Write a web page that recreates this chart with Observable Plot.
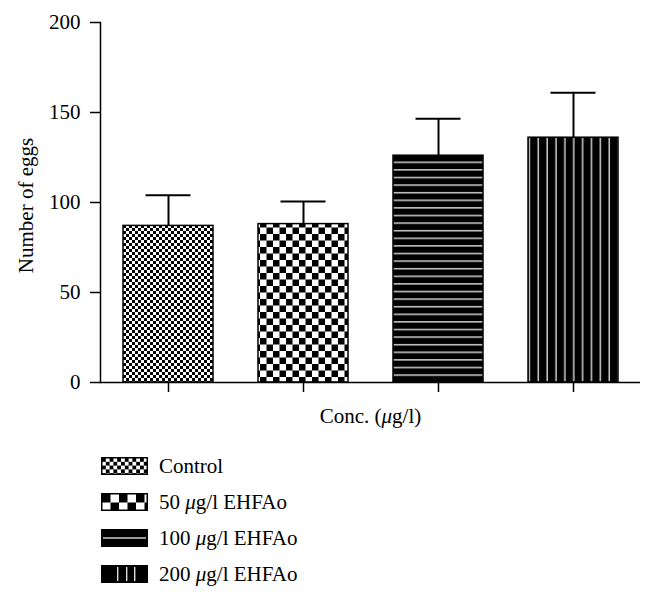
<!DOCTYPE html>
<html>
<head>
<meta charset="utf-8">
<script src="https://cdn.jsdelivr.net/npm/d3@7"></script>
<script src="https://cdn.jsdelivr.net/npm/@observablehq/plot@0.6"></script>
<style>
  html, body { margin: 0; padding: 0; background: white; }
  #chart svg { display: block; }
  #legend { margin-left: 101px; padding-top: 8px; font-family: "Liberation Serif", "DejaVu Serif", serif; font-size: 21px; color: black; }
  .row { display: flex; align-items: center; height: 36px; }
  .row svg { display: block; }
  .row > .label { margin-left: 11px; white-space: pre; }
  .mu { font-style: italic; }
</style>
</head>
<body>
<div id="chart"></div>
<div id="legend"></div>
<script>
// ---- data ----
const categories = ["Control", "50 μg/l EHFAo", "100 μg/l EHFAo", "200 μg/l EHFAo"];
const means = [87, 88, 126, 136];
const errors = [17, 12.5, 20.5, 25];
const patternIds = ["pat-control", "pat-50", "pat-100", "pat-200"];
const yTicks = [0, 50, 100, 150, 200];
const yLabel = "Number of eggs";
const xLabel = "Conc. (μg/l)";

const data = categories.map((c, i) => ({
  cat: c, mean: means[i], top: means[i] + errors[i], fill: `url(#${patternIds[i]})`
}));

const chart = Plot.plot({
  width: 655,
  height: 440,
  marginLeft: 100,
  marginRight: 15,
  marginTop: 22,
  marginBottom: 58,
  x: { domain: categories, paddingInner: 1 / 3, paddingOuter: 1 / 6, axis: null },
  y: { domain: [0, 200], axis: null },
  color: { type: "identity" },
  style: { fontFamily: "Liberation Serif", fontSize: "20px", color: "black", background: "white" },
  marks: [
    Plot.ruleX(data, { x: "cat", y1: "mean", y2: "top", stroke: "black", strokeWidth: 2 }),
    Plot.tickY(data, { x: "cat", y: "top", stroke: "black", strokeWidth: 2, insetLeft: 22.5, insetRight: 22.5 }),
    Plot.barY(data, { x: "cat", y: "mean", fill: "fill", stroke: "black", strokeWidth: 1.5 }),
    Plot.axisY({ ticks: yTicks, tickSize: 10, tickPadding: 10, label: null, strokeWidth: 1.5, fontSize: 21 }),
    Plot.axisX({ tickSize: 10, tickFormat: () => "", label: null, strokeWidth: 1.5 }),
    Plot.frame({ anchor: "left", strokeWidth: 1.5 }),
    Plot.ruleY([0], { strokeWidth: 1.5 }),
    Plot.text([yLabel], { frameAnchor: "left", dx: -74, dy: 3, rotate: -90, textAnchor: "middle", lineAnchor: "middle", fontSize: 21 }),
    Plot.text([xLabel], { frameAnchor: "bottom", dy: 34, textAnchor: "middle", lineAnchor: "middle", fontSize: 21 })
  ]
});

// pattern definitions
const svg = d3.select(chart);
const defs = svg.insert("defs", ":first-child");
function checker(id, s) {
  const p = defs.append("pattern").attr("id", id).attr("patternUnits", "userSpaceOnUse")
    .attr("width", 2 * s).attr("height", 2 * s);
  p.append("rect").attr("width", 2 * s).attr("height", 2 * s).attr("fill", "white");
  p.append("rect").attr("width", s).attr("height", s).attr("fill", "black");
  p.append("rect").attr("x", s).attr("y", s).attr("width", s).attr("height", s).attr("fill", "black");
}
checker("pat-control", 3);
checker("pat-50", 6.5);
{
  const p = defs.append("pattern").attr("id", "pat-100").attr("patternUnits", "userSpaceOnUse")
    .attr("width", 20).attr("height", 7.6);
  p.append("rect").attr("width", 20).attr("height", 7.6).attr("fill", "black");
  p.append("rect").attr("y", 2.0).attr("width", 20).attr("height", 1.4).attr("fill", "#dcdcdc");
}
{
  const p = defs.append("pattern").attr("id", "pat-200").attr("patternUnits", "userSpaceOnUse")
    .attr("width", 8.87).attr("height", 20);
  p.append("rect").attr("width", 8.87).attr("height", 20).attr("fill", "black");
  p.append("rect").attr("x", 5.4).attr("width", 1.4).attr("height", 20).attr("fill", "#dcdcdc");
}

// italic mu
function italicMu(textEl) {
  const s = textEl.textContent;
  if (!s.includes("μ")) return;
  const parts = s.split("μ");
  textEl.textContent = "";
  parts.forEach((part, i) => {
    if (i > 0) {
      const t = document.createElementNS("http://www.w3.org/2000/svg", "tspan");
      t.setAttribute("font-style", "italic");
      t.textContent = "μ";
      textEl.appendChild(t);
    }
    textEl.appendChild(document.createTextNode(part));
  });
}
chart.querySelectorAll("text").forEach(italicMu);

document.getElementById("chart").appendChild(chart);

// legend
const legend = d3.select("#legend");
const swW = 47, swH = 18;
categories.forEach((c, i) => {
  const row = legend.append("div").attr("class", "row");
  const s = row.append("svg").attr("width", swW).attr("height", swH);
  const d = s.append("defs");
  const id = "lg-" + i;
  let fill;
  if (i === 0 || i === 1) {
    const q = i === 0 ? 3.8 : 8.5;
    const p = d.append("pattern").attr("id", id).attr("patternUnits", "userSpaceOnUse")
      .attr("x", 1).attr("y", 1).attr("width", 2 * q).attr("height", 2 * q);
    p.append("rect").attr("width", 2 * q).attr("height", 2 * q).attr("fill", "white");
    p.append("rect").attr("width", q).attr("height", q).attr("fill", "black");
    p.append("rect").attr("x", q).attr("y", q).attr("width", q).attr("height", q).attr("fill", "black");
    fill = `url(#${id})`;
  } else {
    fill = "black";
  }
  s.append("rect").attr("x", 0.75).attr("y", 0.75).attr("width", swW - 1.5).attr("height", swH - 1.5)
    .attr("fill", fill).attr("stroke", "black").attr("stroke-width", 1.5);
  if (i === 2) {
    s.append("rect").attr("x", 2).attr("y", swH / 2 - 0.7).attr("width", swW - 4).attr("height", 1.4).attr("fill", "#dcdcdc");
  }
  if (i === 3) {
    [16, 25, 33].forEach(x => s.append("rect").attr("x", x).attr("y", 2).attr("width", 1.4).attr("height", swH - 4).attr("fill", "#dcdcdc"));
  }
  const span = row.append("span").attr("class", "label");
  const parts = c.split("μ");
  parts.forEach((part, k) => {
    if (k > 0) span.append("span").attr("class", "mu").text("μ");
    span.append("span").text(part);
  });
});
</script>
</body>
</html>
